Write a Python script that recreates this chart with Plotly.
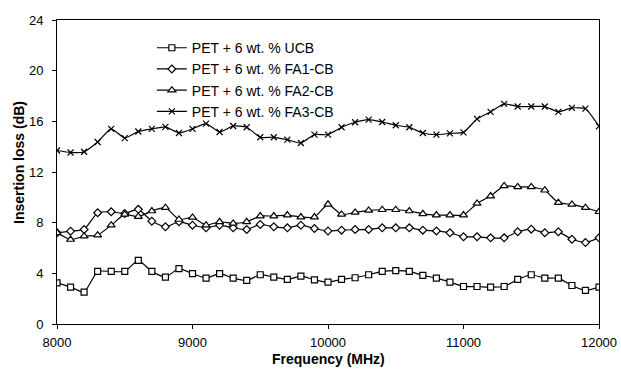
import plotly.graph_objects as go

freq = [8000 + 100 * i for i in range(41)]

ucb = [3.25, 2.91, 2.51, 4.15, 4.15, 4.15, 5.03, 4.15, 3.70, 4.37,
       3.97, 3.62, 3.97, 3.62, 3.44, 3.89, 3.70, 3.52, 3.78, 3.49,
       3.31, 3.52, 3.65, 3.89, 4.15, 4.21, 4.15, 3.84, 3.62, 3.31,
       2.96, 2.96, 2.91, 2.96, 3.52, 3.89, 3.62, 3.62, 3.04, 2.65, 2.91]

fa1 = [7.20, 7.33, 7.46, 8.78, 8.86, 8.73, 9.05, 8.12, 7.67, 8.07,
       7.80, 7.59, 7.80, 7.59, 7.46, 7.86, 7.67, 7.59, 7.80, 7.54,
       7.35, 7.41, 7.46, 7.46, 7.59, 7.59, 7.59, 7.41, 7.35, 7.20,
       6.88, 6.88, 6.80, 6.80, 7.28, 7.49, 7.20, 7.28, 6.69, 6.43, 6.80]

fa2 = [7.20, 6.67, 6.93, 7.01, 7.80, 8.65, 8.47, 8.92, 9.18, 8.25,
       8.41, 7.80, 8.07, 7.94, 8.07, 8.52, 8.52, 8.60, 8.44, 8.44,
       9.45, 8.65, 8.81, 8.97, 9.02, 9.02, 8.92, 8.70, 8.60, 8.60,
       8.60, 9.52, 10.10, 10.90, 10.82, 10.82, 10.56, 9.58, 9.44, 9.18, 8.86]

fa3 = [13.70, 13.54, 13.60, 14.37, 15.40, 14.68, 15.20, 15.40, 15.56, 15.08,
       15.40, 15.82, 15.16, 15.63, 15.53, 14.74, 14.74, 14.55, 14.29, 14.95,
       14.95, 15.53, 15.93, 16.14, 15.95, 15.69, 15.53, 15.08, 14.95, 15.05,
       15.13, 16.19, 16.75, 17.38, 17.17, 17.17, 17.17, 16.75, 17.06, 17.00, 15.61]

names = ["PET + 6 wt. % UCB", "PET + 6 wt. % FA1-CB",
         "PET + 6 wt. % FA2-CB", "PET + 6 wt. % FA3-CB"]
series = [ucb, fa1, fa2, fa3]
symbols = ["square", "diamond", "triangle-up", "x-thin"]
sizes = [6, 6, 7, 6]

x_ticks = [8000, 9000, 10000, 11000, 12000]
y_ticks = [0, 4, 8, 12, 16, 20, 24]

FONT = "Liberation Sans, Arial, sans-serif"

fig = go.Figure()
for name, vals, sym, sz in zip(names, series, symbols, sizes):
    fig.add_trace(go.Scatter(
        x=freq, y=vals, name=name, mode="lines+markers",
        line=dict(color="black", width=1.2, shape="spline", smoothing=0.5),
        marker=dict(symbol=sym, size=sz, color="white",
                    line=dict(color="black", width=1.2)),
    ))

fig.update_layout(
    width=621, height=370,
    margin=dict(l=57, r=22, t=20, b=46, autoexpand=False),
    paper_bgcolor="white", plot_bgcolor="white",
    font=dict(family=FONT, size=13, color="black"),
    showlegend=True,
    legend=dict(x=0.175, y=0.96, xanchor="left", yanchor="top",
                bgcolor="rgba(0,0,0,0)", font=dict(size=14),
                tracegroupgap=0, itemwidth=30),
    xaxis=dict(range=[8000, 12000], tickvals=x_ticks,
               ticktext=[str(v) for v in x_ticks], automargin=False,
               showgrid=False, zeroline=False,
               showline=True, linecolor="black", linewidth=1, mirror=True,
               ticks="outside", ticklen=4, tickcolor="black",
               ticklabelstandoff=2,
               tickfont=dict(size=13)),
    yaxis=dict(range=[0, 24], tickvals=y_ticks,
               ticktext=[str(v) for v in y_ticks], automargin=False,
               showgrid=False, zeroline=False,
               showline=True, linecolor="black", linewidth=1, mirror=True,
               ticks="outside", ticklen=4, tickcolor="black",
               ticklabelstandoff=6,
               tickfont=dict(size=13)),
    annotations=[
        dict(text="<b>Frequency (MHz)</b>", xref="paper", yref="paper",
             x=0.5, y=-0.148, xanchor="center", yanchor="bottom",
             showarrow=False, font=dict(size=14)),
        dict(text="<b>Insertion loss (dB)</b>", xref="paper", yref="paper",
             x=-0.07, y=0.53, xanchor="center", yanchor="middle",
             textangle=-90, showarrow=False, font=dict(size=14)),
    ],
)

fig.write_html("out.html")
